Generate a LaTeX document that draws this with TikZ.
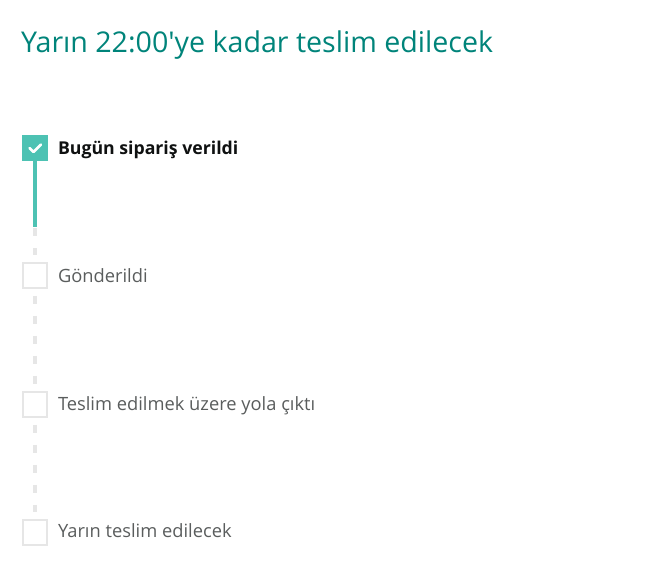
\documentclass[tikz,border=0pt]{standalone}
\usepackage{fontspec}
\setmainfont{Open Sans}
\newfontfamily\titlefont{Open Sans}
\begin{document}
\begin{tikzpicture}[x=1pt,y=-1pt,
  every node/.style={inner sep=0pt, outer sep=0pt},
  chk/.style={draw=boxgray, line width=2pt, minimum size=24.5pt, fill=white},
  done/.style={draw=tealfill, fill=tealfill, line width=2pt, minimum size=24.5pt},
  lbl/.style={anchor=base west, text=labelgray, font=\fontsize{18.3}{22}\selectfont},
  dashline/.style={draw=boxgray, line width=4pt, dash pattern=on 8pt off 12pt},
  progress/.style={draw=tealfill, line width=4pt}]
\definecolor{tealfill}{HTML}{4DC2B3}
\definecolor{titleteal}{HTML}{00847A}
\definecolor{boxgray}{HTML}{E6E6E6}
\definecolor{labelgray}{HTML}{5A5D5D}
\definecolor{darktext}{HTML}{0F1111}
\useasboundingbox[fill=white] (0,0) rectangle (658,570);
\node[anchor=base west, text=titleteal, font=\titlefont\fontsize{28.6}{34}\selectfont] (title) at (21,52) {Yarın 22:00'ye kadar teslim edilecek};
% dashed track
\node[chk] (b2) at (35,275.5) {};
\node[chk] (b3) at (35,404.5) {};
\node[chk] (b4) at (35,532.5) {};
\node[done] (b1) at (35,148) {};
\draw[dashline] ([yshift=-8pt]b1.south) -- ([yshift=8pt]b2.north);
\draw[dashline] ([yshift=-8pt]b2.south) -- ([yshift=8pt]b3.north);
\draw[dashline] ([yshift=-8pt]b3.south) -- ([yshift=8pt]b4.north);
\coordinate (pend) at (35,227);
\draw[progress] (b1.south) -- (pend);
% check mark
\draw[white, line width=2.6pt, line cap=round, line join=round] (29.5,148) -- (33.5,152) -- (41,144.5);
% labels
\node[lbl, text=darktext, font=\fontsize{17.7}{22}\selectfont\bfseries] (t1) at (58,154) {Bugün sipariş verildi};
\node[lbl] (t2) at (58,282) {Gönderildi};
\node[lbl] (t3) at (58,410.5) {Teslim edilmek üzere yola çıktı};
\node[lbl] (t4) at (58,537.5) {Yarın teslim edilecek};
\end{tikzpicture}
\end{document}
